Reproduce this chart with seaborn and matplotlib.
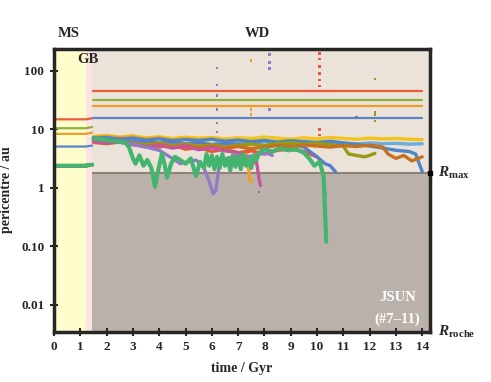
import numpy as np
import pandas as pd
import seaborn as sns
import matplotlib.pyplot as plt

# phase boundaries (Gyr) and limits (au)
t_ms_end = 1.2
t_gb_end = 1.45
r_max = 1.8
r_roche = 0.0035

# outer planets that stay stable: MS/GB part, then WD part (adiabatic expansion)
stable_ms_t = [0, 1.2, 1.45]
stable_wd_t = [1.47, 14.0]
stable_red = [14.9, 14.9, 15.5, 45.5, 45.5]
stable_green = [10.5, 10.5, 11.0, 32.0, 32.0]
stable_orange = [8.4, 8.4, 8.8, 25.5, 25.5]
stable_blue = [5.1, 5.1, 5.3, 15.9, 15.9]

# inner planets, which start near 2.4 au and become unstable after the GB
ms_t = [0, 1.2, 1.45]
ms_v = [2.4, 2.4, 2.5]

yellow_t = [1.5, 2.0, 2.5, 3.0, 3.5, 4.0, 4.5, 5.0, 5.5, 6.0, 6.5, 7.0, 7.5, 8.0, 8.5, 9.0,
            9.5, 10.0, 10.5, 11.0, 11.5, 12.0, 12.5, 13.0, 13.5, 14.0]
yellow_v = [7.6, 7.9, 7.4, 7.8, 7.2, 7.5, 7.0, 7.4, 7.1, 7.3, 6.9, 7.2, 7.0, 7.4, 7.1, 6.8,
            7.2, 6.9, 7.3, 7.0, 6.8, 7.1, 6.9, 7.0, 6.8, 6.7]

orange_t = [1.5, 2.0, 2.5, 3.0, 3.5, 4.0, 4.5, 5.0, 5.5, 6.0, 6.5, 7.0, 7.3, 7.45, 7.5]
orange_v = [7.4, 7.7, 7.2, 7.5, 6.8, 7.2, 6.6, 7.0, 6.4, 6.8, 6.2, 6.5, 5.2, 1.3, 1.3]

red_t = [1.5, 2.0, 2.5, 3.0, 3.5, 4.0, 4.5, 5.0, 5.5, 6.0, 6.5, 7.0, 7.5, 8.0, 8.5, 9.0,
         9.5, 10.0]
red_v = [6.8, 6.4, 6.9, 6.2, 5.6, 5.0, 5.4, 4.6, 4.9, 4.2, 4.6, 4.0, 4.3, 3.8, 4.4, 4.6,
         4.2, 3.4]

purple_t = [1.5, 2.0, 2.5, 3.0, 3.5, 4.0, 4.5, 4.8, 5.1, 5.4, 5.7, 5.9, 6.05, 6.15, 6.3,
            6.6, 7.0, 7.4, 7.8, 8.1, 8.3]
purple_v = [7.0, 6.6, 6.0, 5.6, 5.0, 4.4, 3.2, 2.6, 2.8, 3.0, 2.2, 1.3, 0.8, 0.9, 2.8,
            3.2, 3.6, 3.4, 3.8, 3.9, 3.6]

magenta_t = [1.5, 2.0, 2.5, 3.0, 3.5, 4.0, 4.5, 5.0, 5.5, 6.0, 6.5, 7.0, 7.3, 7.5, 7.7,
             7.8, 7.85]
magenta_v = [6.2, 5.8, 6.4, 5.5, 5.0, 5.4, 4.8, 5.2, 4.5, 4.9, 4.3, 4.0, 3.2, 2.6, 2.8,
             1.4, 1.1]

blue_t = [1.5, 2.0, 2.5, 3.0, 3.5, 4.0, 4.5, 5.0, 5.5, 6.0, 6.5, 7.0, 7.5, 8.0, 8.5, 9.0,
          9.5, 10.0, 10.3, 10.5, 10.7]
blue_v = [7.2, 6.8, 6.4, 6.0, 6.3, 5.8, 6.1, 5.6, 5.9, 5.4, 5.7, 5.5, 5.8, 5.3, 5.6, 5.5,
          5.0, 3.4, 2.6, 2.4, 1.9]

blue2_t = [1.5, 2.0, 2.5, 3.0, 3.5, 4.0, 4.5, 5.0, 5.5, 6.0, 6.5, 7.0, 7.5, 8.0, 8.5, 9.0,
           9.5, 10.0, 10.5, 11.0, 11.5, 12.0, 12.5, 13.0, 13.5, 13.75, 14.0]
blue2_v = [7.0, 7.3, 6.8, 7.1, 6.6, 6.9, 6.4, 6.7, 6.5, 6.8, 6.3, 6.6, 6.2, 6.5, 6.1, 6.4,
           6.2, 6.0, 6.3, 5.9, 5.6, 5.2, 4.8, 4.4, 4.2, 3.8, 1.9]

lblue_t = [1.5, 2.0, 2.5, 3.0, 3.5, 4.0, 4.5, 5.0, 5.5, 6.0, 6.5, 7.0, 7.5, 8.0, 8.5, 9.0,
           9.5, 10.0, 10.5, 11.0, 11.5, 12.0, 12.5, 13.0, 13.5, 14.0]
lblue_v = [6.6, 6.2, 6.5, 6.0, 6.3, 5.8, 6.1, 5.7, 6.0, 5.6, 5.9, 5.7, 6.0, 6.2, 5.8, 6.0,
           5.7, 5.9, 5.6, 5.8, 5.6, 5.9, 5.7, 5.8, 5.6, 5.7]

olive_t = [1.5, 2.0, 2.5, 3.0, 3.5, 4.0, 4.5, 5.0, 5.5, 6.0, 6.5, 7.0, 7.5, 8.0, 8.5, 9.0,
           9.5, 10.0, 10.5, 11.0, 11.2, 11.5, 11.8, 12.0, 12.2]
olive_v = [6.4, 6.0, 6.3, 5.8, 5.5, 5.9, 5.3, 5.6, 5.2, 5.5, 5.0, 5.4, 5.6, 5.3, 5.8, 5.9,
           5.6, 5.8, 5.5, 5.2, 3.8, 3.6, 3.4, 3.6, 3.9]

brown_t = [1.5, 2.0, 2.5, 3.0, 3.5, 4.0, 4.5, 5.0, 5.5, 6.0, 6.5, 7.0, 7.5, 8.0, 8.5, 9.0,
           9.5, 10.0, 10.5, 11.0, 11.5, 12.0, 12.5, 12.7, 13.0, 13.3, 13.6, 14.0]
brown_v = [6.0, 5.7, 6.1, 5.5, 5.2, 5.6, 5.0, 5.4, 4.9, 5.2, 4.8, 5.1, 4.7, 5.0, 5.3, 5.1,
           5.4, 5.2, 5.0, 5.3, 5.1, 5.4, 5.0, 3.8, 3.2, 3.6, 2.9, 3.4]

green_t = [1.5, 1.8, 2.1, 2.4, 2.7, 2.85, 3.0, 3.1, 3.25, 3.4, 3.55, 3.7, 3.84, 3.95, 4.1,
           4.2, 4.3, 4.45, 4.6, 4.8, 5.0, 5.2, 5.4, 5.55, 5.7, 5.8, 5.9, 6.0, 6.1, 6.2, 6.3,
           6.4, 6.5, 6.6, 6.7, 6.8, 6.9, 7.0, 7.1, 7.2, 7.3, 7.4, 7.5, 7.6, 7.7, 7.8, 8.0,
           8.3, 8.6, 8.9, 9.2, 9.5, 9.7, 9.9, 10.1, 10.25, 10.35]
green_v = [7.0, 6.8, 6.5, 6.3, 6.0, 5.0, 3.2, 2.6, 3.6, 2.4, 3.0, 2.2, 1.05, 1.9, 3.8,
           2.6, 1.5, 2.6, 3.4, 3.0, 2.6, 3.2, 1.6, 2.8, 2.2, 3.8, 2.4, 3.6, 2.1, 3.4, 2.2,
           3.8, 2.4, 3.2, 2.0, 3.6, 2.3, 3.4, 2.1, 3.8, 2.4, 3.2, 2.2, 3.6, 3.0, 4.0, 4.6,
           4.2, 4.8, 4.4, 4.6, 4.0, 3.2, 2.4, 2.8, 1.6, 0.12]

# scattered points thrown out during close encounters
spray_t = [6.2, 6.2, 6.2, 6.2, 6.2, 6.2, 8.2, 8.2, 8.2, 8.2, 7.5, 7.5, 7.5,
           10.1, 10.1, 10.1, 10.1, 10.1, 10.1, 10.1, 10.1, 10.1,
           12.2, 12.2, 12.2, 12.2, 11.5, 10.35, 10.35, 10.35, 10.35, 7.8, 7.8]
spray_v = [9, 13, 22, 38, 58, 112, 22, 110, 140, 190, 18, 22, 150,
           8, 10, 55, 70, 90, 120, 160, 200, 240,
           14, 18, 20, 73, 16, 0.8, 0.5, 0.3, 0.2, 1.6, 0.85]
spray_trace = ['purple'] * 6 + ['purple'] * 4 + ['orange'] * 3 + ['red'] * 9 + \
              ['olive'] * 4 + ['blue'] + ['green'] * 4 + ['magenta'] * 2

colours = {
    'red': '#e9573c', 'green': '#45b46f', 'orange': '#eea12a', 'blue': '#5a7ccb',
    'yellow': '#f3c419', 'purple': '#8f7cc6', 'magenta': '#c3579a', 'blue2': '#4d86c8',
    'lblue': '#6aaddf', 'olive': '#9a9b13', 'brown': '#c7701d',
    's_red': '#ec5a3a', 's_green': '#8db33a', 's_orange': '#e9a02a', 's_blue': '#5b84c6',
}

traces = {
    'yellow': (yellow_t, yellow_v), 'orange': (orange_t, orange_v),
    'red': (red_t, red_v), 'lblue': (lblue_t, lblue_v),
    'blue2': (blue2_t, blue2_v), 'blue': (blue_t, blue_v),
    'olive': (olive_t, olive_v), 'brown': (brown_t, brown_v),
    'magenta': (magenta_t, magenta_v), 'purple': (purple_t, purple_v),
}

rows = []
for name, (tt, vv) in traces.items():
    for t, v in zip(ms_t, ms_v):
        rows.append((name, name + '_ms', t, v))
    for t, v in zip(tt, vv):
        rows.append((name, name + '_wd', t, v))
stable_rows = []
for name, vv in [('s_red', stable_red), ('s_green', stable_green),
                 ('s_orange', stable_orange), ('s_blue', stable_blue)]:
    for t, v in zip(stable_ms_t, vv[:3]):
        stable_rows.append((name, name + '_ms', t, v))
    for t, v in zip(stable_wd_t, vv[3:]):
        stable_rows.append((name, name + '_wd', t, v))
green_rows = [('green', 'green_ms', t, v) for t, v in zip(ms_t, ms_v)] + \
             [('green', 'green_wd', t, v) for t, v in zip(green_t, green_v)]

cols = ['trace', 'seg', 't', 'v']
df = pd.DataFrame(rows, columns=cols)
df_stable = pd.DataFrame(stable_rows, columns=cols)
df_green = pd.DataFrame(green_rows, columns=cols)
spray = pd.DataFrame({'t': spray_t, 'v': spray_v, 'trace': spray_trace})

sns.set_style('ticks')
plt.rcParams['font.family'] = ['Liberation Serif', 'DejaVu Serif']
plt.rcParams['font.weight'] = 'bold'
plt.rcParams['mathtext.fontset'] = 'custom'
plt.rcParams['mathtext.it'] = 'Liberation Serif:italic:bold'
plt.rcParams['mathtext.rm'] = 'Liberation Serif:bold'

fig = plt.figure(figsize=(4.91, 3.82), dpi=100)
ax = fig.add_axes([0.110, 0.132, 0.766, 0.741])

xmax = 14.3
ymax = 242
ax.axvspan(0, t_ms_end, color='#fffdcc', lw=0, zorder=0)
ax.axvspan(t_ms_end, t_gb_end, color='#fde3e3', lw=0, zorder=0)
ax.axvspan(t_gb_end, xmax, color='#ebe2d9', lw=0, zorder=0)
ax.fill_between([t_gb_end, xmax], r_roche, r_max, color='#bab2aa', lw=0, zorder=0.5)
ax.hlines(r_max, t_gb_end, xmax, color='#8c837b', lw=1.5, zorder=0.6)

sns.lineplot(data=df_stable, x='t', y='v', hue='trace', palette=colours, units='seg',
             estimator=None, sort=False, legend=False, lw=1.6, ax=ax, zorder=2)
sns.lineplot(data=df, x='t', y='v', hue='trace', palette=colours, units='seg',
             estimator=None, sort=False, legend=False, lw=2.4, ax=ax, zorder=2)
sns.lineplot(data=df_green, x='t', y='v', hue='trace', palette=colours, units='seg',
             estimator=None, sort=False, legend=False, lw=3.0, ax=ax, zorder=2.1)
sns.scatterplot(data=spray, x='t', y='v', hue='trace', palette=colours, s=3,
                marker='s', linewidth=0, legend=False, ax=ax, zorder=2)

ax.set_yscale('log')
ax.set_xlim(0, xmax)
ax.set_ylim(r_roche, ymax)
ax.set_xticks(range(15))
ax.set_yticks([0.01, 0.1, 1, 10, 100])
ax.set_yticklabels(['0.01', '0.10', '1', '10', '100'])
ax.minorticks_off()
ax.tick_params(direction='inout', length=6, width=1.5, labelsize=9.5, pad=4)
for s in ax.spines.values():
    s.set_linewidth(2.5)
    s.set_visible(True)

ax.set_xlabel('time / Gyr', fontsize=10, fontweight='bold', labelpad=6)
ax.set_ylabel('pericentre / au', fontsize=10, fontweight='bold', labelpad=6)

ax.text(0.55, 1.03, 'MS', transform=ax.get_xaxis_transform(), ha='center', va='bottom',
        fontsize=10.5, fontweight='bold')
ax.text(7.75, 1.03, 'WD', transform=ax.get_xaxis_transform(), ha='center', va='bottom',
        fontsize=10.5, fontweight='bold')
ax.text(1.3, 160, 'GB', ha='center', va='center', fontsize=10.5, fontweight='bold')
ax.text(13.05, 0.0136, 'JSUN', ha='center', va='center', color='white', fontsize=10.5,
        fontweight='bold')
ax.text(13.05, 0.0056, '(#7–11)', ha='center', va='center', color='white', fontsize=10.5,
        fontweight='bold')

ax.plot([xmax], [r_max], marker='s', color='black', ms=3, clip_on=False, zorder=5)
ax.text(xmax + 0.3, r_max, r'$R_{\rm max}$', ha='left', va='center', fontsize=11)
ax.text(xmax + 0.3, r_roche, r'$R_{\rm roche}$', ha='left', va='center', fontsize=11)

fig.savefig('out.png', dpi=100)
